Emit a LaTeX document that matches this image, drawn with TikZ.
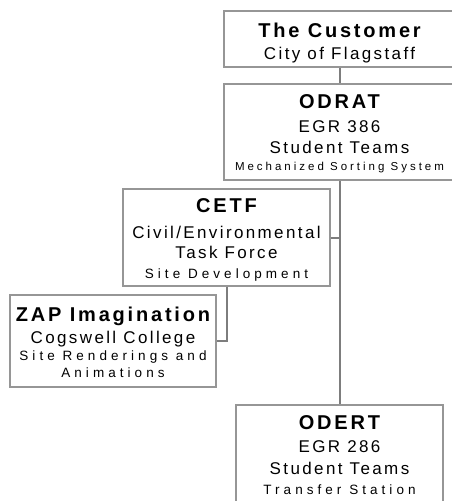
\documentclass[tikz,border=0pt]{standalone}
\usepackage{fontspec}
\setmainfont{Liberation Sans}
\newfontfamily\headfont[LetterSpace=14]{Liberation Sans}
\newfontfamily\midfont[LetterSpace=14]{Liberation Sans}
\newfontfamily\smallfont[LetterSpace=30]{Liberation Sans}
\newfontfamily\tinyfont[LetterSpace=26]{Liberation Sans}
\newcommand{\unithead}[1]{{\headfont\bfseries\fontsize{20}{17}\selectfont #1}}
\newcommand{\unitmid}[1]{{\midfont\fontsize{17}{17}\selectfont #1}}
\newcommand{\unitsmall}[1]{{\smallfont\fontsize{13.5}{17}\selectfont #1}}
\newcommand{\unittiny}[1]{{\tinyfont\fontsize{11.5}{17}\selectfont #1}}
\definecolor{boxgray}{RGB}{150,150,150}
\definecolor{linegray}{RGB}{125,125,125}

\begin{document}
\begin{tikzpicture}[x=1pt, y=-1pt,
  unit/.style={draw=boxgray, line width=1.2pt, fill=white, inner sep=0pt, align=center,
    font=\fontsize{17}{17}\selectfont},
  link/.style={draw=linegray, line width=2pt}]
  \useasboundingbox (0,0) rectangle (452,501);
  \clip (0,0) rectangle (452,501);
  \node[unit, minimum width=231, text height=48, text depth=8] (cust) at (339.5,39)
    {\unithead{The Customer}\\[5pt]\unitmid{City of Flagstaff}};
  \node[unit, minimum width=231, text height=86, text depth=10] (odrat) at (339.5,132)
    {\unithead{ODRAT}\\[7pt]\unitmid{EGR 386}\\[4pt]\unitmid{Student Teams}\\
     \unittiny{Mechanized Sorting System}};
  \node[unit, minimum width=207, text height=89, text depth=8] (cetf) at (226.5,237.5)
    {\unithead{CETF}\\[9pt]\unitmid{Civil/Environmental}\\[3pt]\unitmid{Task Force}\\[3pt]
     \unitsmall{Site Development}};
  \node[unit, minimum width=206, text height=82, text depth=10] (zap) at (113,341)
    {\unithead{ZAP Imagination}\\[5pt]\unitmid{Cogswell College}\\
     \unitsmall{Site Renderings and}\\\unitsmall{Animations}};
  \node[unit, minimum width=207, text height=89, text depth=9] (odert) at (339.5,454)
    {\unithead{ODERT}\\[6pt]\unitmid{EGR 286}\\[5pt]\unitmid{Student Teams}\\[3pt]
     \unitsmall{Transfer Station}};
  \draw[link] (cust) -- (odrat);
  \draw[link] (odrat) -- (odert);
  \draw[link] (cetf.east) -- (cetf.east -| odrat.south);
  \draw[link] (cetf.south) |- (zap.east);
\end{tikzpicture}
\end{document}
